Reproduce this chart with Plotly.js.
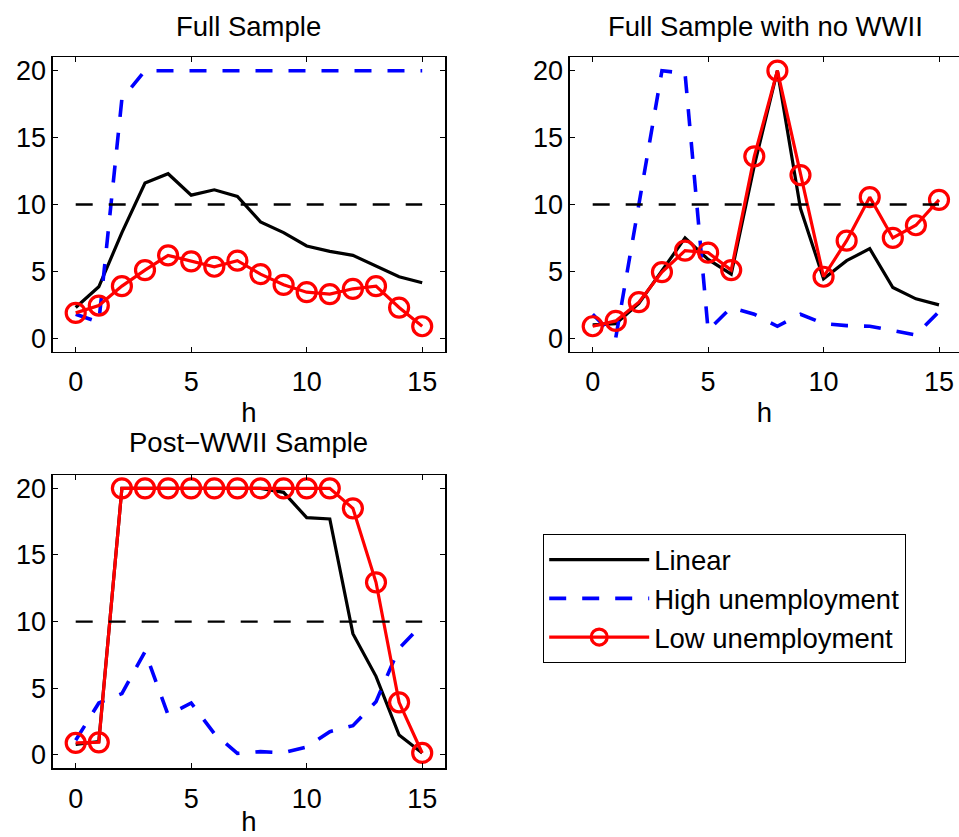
<!DOCTYPE html>
<html>
<head>
<meta charset="utf-8">
<script src="https://cdn.plot.ly/plotly-3.0.1.min.js"></script>
<style>
  html, body { margin: 0; padding: 0; background: #ffffff; }
  #chart { width: 959px; height: 837px; }
</style>
</head>
<body>
<div id="chart"></div>
<script>
// ---- data ----
const h = [0, 1, 2, 3, 4, 5, 6, 7, 8, 9, 10, 11, 12, 13, 14, 15];
const refLine = [10, 10, 10, 10, 10, 10, 10, 10, 10, 10, 10, 10, 10, 10, 10, 10];

const seriesNames = ["Linear", "High unemployment", "Low unemployment"];
const panelTitles = ["Full Sample", "Full Sample with no WWII", "Post\u2212WWII Sample"];
const xTickVals = [0, 5, 10, 15];
const yTickVals = [0, 5, 10, 15, 20];
const xLabel = "h";

// Full Sample
const linearFull = [2.3, 3.85, 7.9, 11.6, 12.3, 10.7, 11.1, 10.6, 8.7, 7.9, 6.9, 6.5, 6.2, 5.4, 4.6, 4.15];
const highFull   = [1.8, 1.2, 17.9, 20, 20, 20, 20, 20, 20, 20, 20, 20, 20, 20, 20, 20];
const lowFull    = [1.9, 2.45, 3.9, 5.1, 6.2, 5.75, 5.35, 5.8, 4.8, 4.0, 3.45, 3.3, 3.7, 3.9, 2.3, 0.9];

// Full Sample with no WWII
const linearNoWWII = [1.0, 1.1, 2.6, 5.0, 7.5, 5.9, 4.8, 12.9, 20, 9.7, 4.45, 5.8, 6.7, 3.8, 2.95, 2.5];
const highNoWWII   = [1.8, 0.05, 10.0, 20, 19.8, 0.6, 2.3, 1.8, 0.9, 1.8, 1.1, 0.95, 0.9, 0.55, 0.25, 2.0];
const lowNoWWII    = [0.9, 1.3, 2.7, 4.95, 6.55, 6.4, 5.1, 13.6, 20, 12.2, 4.6, 7.3, 10.55, 7.5, 8.45, 10.35];

// Post-WWII Sample
const linearPost = [0.8, 1.0, 20, 20, 20, 20, 20, 20, 20, 19.7, 17.8, 17.7, 9.1, 5.9, 1.5, 0.15];
const highPost   = [1.1, 3.9, 4.6, 7.75, 3.0, 3.9, 1.6, 0.12, 0.25, 0.17, 0.6, 1.75, 2.2, 4.0, 8.0, 9.8];
const lowPost    = [0.9, 0.95, 20, 20, 20, 20, 20, 20, 20, 20, 20, 20, 18.5, 12.95, 3.95, 0.15];

// ---- layout helpers ----
const W = 959, H = 837;
const FONT = "Liberation Sans, Arial, Helvetica, sans-serif";
const px = v => v / W;
const py = v => 1 - v / H;

const panels = [
  {lin: linearFull,   high: highFull,   low: lowFull,   xa: "x",  ya: "y",  legend: true},
  {lin: linearNoWWII, high: highNoWWII, low: lowNoWWII, xa: "x2", ya: "y2", legend: false},
  {lin: linearPost,   high: highPost,   low: lowPost,   xa: "x3", ya: "y3", legend: false}
];

const traces = [];
panels.forEach(p => {
  traces.push({x: h, y: p.lin, xaxis: p.xa, yaxis: p.ya, type: "scatter", mode: "lines",
    name: seriesNames[0], showlegend: p.legend, legendrank: 1,
    line: {color: "#000000", width: 3.2}});
  traces.push({x: h, y: p.high, xaxis: p.xa, yaxis: p.ya, type: "scatter", mode: "lines",
    name: seriesNames[1], showlegend: p.legend, legendrank: 2,
    line: {color: "#0000ff", width: 3.6, dash: "17px,16px"}});
  traces.push({x: h, y: p.low, xaxis: p.xa, yaxis: p.ya, type: "scatter", mode: "lines+markers",
    name: seriesNames[2], showlegend: p.legend, legendrank: 3,
    line: {color: "#ff0000", width: 3.2},
    marker: {symbol: "circle-open", size: 19, color: "#ff0000", line: {color: "#ff0000", width: 3.2}}});
  traces.push({x: h, y: refLine, xaxis: p.xa, yaxis: p.ya, type: "scatter", mode: "lines",
    name: "reference", showlegend: false, hoverinfo: "skip",
    line: {color: "#000000", width: 2.4, dash: "17px,16px"}});
});

function xAxis(domain, range, anchor) {
  return {
    domain: domain, range: range, anchor: anchor,
    tickvals: xTickVals, ticks: "inside", ticklen: 5, tickwidth: 1, tickcolor: "#000",
    showline: true, linecolor: "#000", linewidth: 1.2, mirror: "ticks",
    showgrid: false, zeroline: false,
    tickfont: {family: FONT, size: 27, color: "#000"},
    ticklabelstandoff: 6,
    title: {text: xLabel, font: {family: FONT, size: 27.5, color: "#000"}, standoff: 6}
  };
}
function yAxis(domain, anchor, mirror) {
  return {
    domain: domain, range: [-1, 21], anchor: anchor,
    tickvals: yTickVals, ticks: "inside", ticklen: 5, tickwidth: 1, tickcolor: "#000",
    showline: true, linecolor: "#000", linewidth: 1.2, mirror: mirror,
    showgrid: false, zeroline: false,
    tickfont: {family: FONT, size: 27, color: "#000"},
    ticklabelstandoff: 0
  };
}

const topDom = [py(351.7), py(57.3)];
const botDom = [py(768.3), py(475)];
const leftX = [px(52.6), px(445.3)];
const rightX = [px(569.6), 1];

const layout = {
  width: W, height: H,
  margin: {l: 0, r: 0, t: 0, b: 0, pad: 0},
  paper_bgcolor: "#ffffff", plot_bgcolor: "#ffffff",
  font: {family: FONT, color: "#000"},
  xaxis: xAxis(leftX, [-1, 16], "y"),
  yaxis: yAxis(topDom, "x", "ticks"),
  xaxis2: xAxis(rightX, [-1, 15 + (959 - 939) / 23.09], "y2"),
  yaxis2: yAxis(topDom, "x2", false),
  xaxis3: xAxis(leftX, [-1, 16], "y3"),
  yaxis3: yAxis(botDom, "x3", "ticks"),
  showlegend: true,
  legend: {
    x: px(543), y: py(534), xanchor: "left", yanchor: "top",
    xref: "paper", yref: "paper",
    bgcolor: "#ffffff", bordercolor: "#000", borderwidth: 1.2,
    font: {family: FONT, size: 27.5, color: "#000"},
    itemwidth: 100, traceorder: "normal", itemclick: false
  },
  annotations: [
    {text: panelTitles[0], x: (px(52.6) + px(445.3)) / 2, y: py(27), xref: "paper", yref: "paper",
     showarrow: false, xanchor: "center", yanchor: "middle", font: {family: FONT, size: 27.5, color: "#000"}},
    {text: panelTitles[1], x: (px(569.6) + px(962)) / 2, y: py(27), xref: "paper", yref: "paper",
     showarrow: false, xanchor: "center", yanchor: "middle", font: {family: FONT, size: 27.5, color: "#000"}},
    {text: panelTitles[2], x: (px(52.6) + px(445.3)) / 2, y: py(443), xref: "paper", yref: "paper",
     showarrow: false, xanchor: "center", yanchor: "middle", font: {family: FONT, size: 27.5, color: "#000"}}
  ]
};

Plotly.newPlot("chart", traces, layout, {staticPlot: true, displayModeBar: false});
</script>
</body>
</html>
